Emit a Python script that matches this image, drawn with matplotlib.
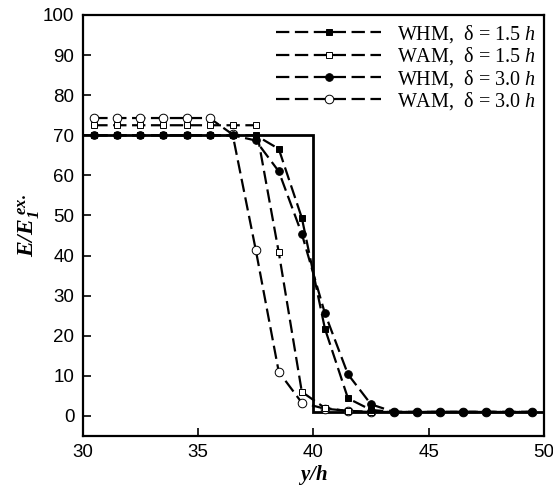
import numpy as np
import matplotlib
matplotlib.use("Agg")
import matplotlib.pyplot as plt

plt.rcParams['font.family'] = ['Liberation Sans', 'DejaVu Sans']
plt.rcParams['mathtext.fontset'] = 'custom'
plt.rcParams['mathtext.rm'] = 'Liberation Serif'
plt.rcParams['mathtext.it'] = 'Liberation Serif:italic'
plt.rcParams['mathtext.bf'] = 'Liberation Serif:italic:bold'

# y/h positions of the sample points
y_h = np.arange(30.5, 50.0, 1.0)

whm_15 = [70, 70, 70, 70, 70, 70, 70, 70, 66.6, 49.4, 21.8, 4.4, 1.5,
          1, 1, 1, 1, 1, 1, 1]
wam_15 = [72.5, 72.5, 72.5, 72.5, 72.5, 72.5, 72.5, 72.5, 40.8, 6.0, 2.0, 1.2, 1,
          1, 1, 1, 1, 1, 1, 1]
whm_30 = [70, 70, 70, 70, 70, 70, 70, 68.7, 61.0, 45.4, 25.6, 10.4, 2.9,
          1, 1, 1, 1, 1, 1, 1]
wam_30 = [74.3, 74.3, 74.3, 74.3, 74.3, 74.3, 70.2, 41.5, 11.0, 3.3, 1.8, 1.3, 1,
          1, 1, 1, 1, 1, 1, 1]

# exact (step) solution
exact_x = [30, 40, 40, 50]
exact_y = [70, 70, 1, 1]

labels = [r'WHM,  δ = 1.5 $\mathit{h}$', r'WAM,  δ = 1.5 $\mathit{h}$',
          r'WHM,  δ = 3.0 $\mathit{h}$', r'WAM,  δ = 3.0 $\mathit{h}$']

fig = plt.figure(figsize=(5.53, 4.91), dpi=100)
ax = fig.add_axes([0.1496, 0.112, 0.8341, 0.8575])

ax.plot(exact_x, exact_y, color='black', lw=2.0, solid_joinstyle='miter', zorder=2)

dash = dict(color='black', lw=1.6, dashes=[6, 2.5], markeredgewidth=0.7,
            markeredgecolor='black')
h1, = ax.plot(y_h, whm_15, marker='s', ms=4.5, markerfacecolor='black',
              zorder=5, **dash)
h2, = ax.plot(y_h, wam_15, marker='s', ms=4.5, markerfacecolor='white',
              zorder=4, **dash)
h3, = ax.plot(y_h, whm_30, marker='o', ms=5.5, markerfacecolor='black',
              zorder=6, **dash)
h4, = ax.plot(y_h, wam_30, marker='o', ms=6.2, markerfacecolor='white',
              zorder=3, **dash)

ax.set_xlim(30, 50)
ax.set_ylim(-5, 100)
ax.set_xticks([30, 35, 40, 45, 50])
ax.set_yticks(np.arange(0, 101, 10))
ax.tick_params(direction='in', length=6, width=1.2, labelsize=13.5,
               top=False, right=False, pad=6)
for s in ax.spines.values():
    s.set_linewidth(1.6)

ax.set_xlabel(r'$\mathbf{y/h}$', fontsize=15, labelpad=1)
ax.set_ylabel(r'$\mathbf{E/E_1^{\ ex.}}$', fontsize=17, labelpad=1)

leg = ax.legend([h1, h2, h3, h4], labels, loc='upper right', frameon=False,
                numpoints=1, handlelength=5.2, handletextpad=0.8,
                labelspacing=0.02, borderaxespad=0.15, borderpad=0.25,
                prop={'family': 'Liberation Serif', 'size': 14.5})

fig.savefig('out.png', dpi=100)
